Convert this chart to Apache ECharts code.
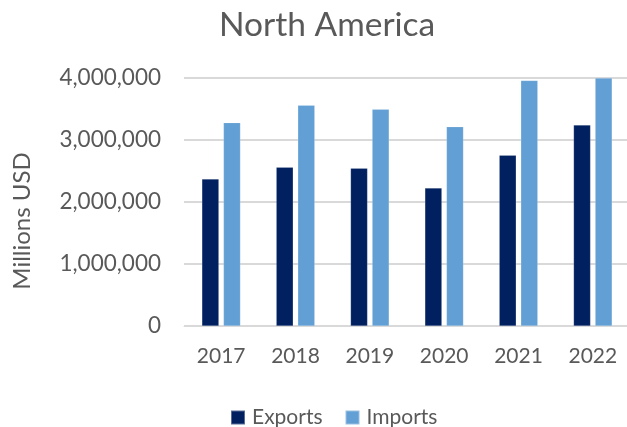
<!DOCTYPE html>
<html>
<head>
<meta charset="utf-8">
<script src="https://cdn.jsdelivr.net/npm/echarts@6/dist/echarts.min.js"></script>
<style>
  html, body { margin: 0; padding: 0; background: #fff; }
  #chart { width: 627px; height: 427px; }
</style>
</head>
<body>
<div id="chart"></div>
<script>
// North America trade, millions of US dollars
const years = ['2017', '2018', '2019', '2020', '2021', '2022'];
const exportsData = [2370000, 2560000, 2545000, 2225000, 2755000, 3240000];
const importsData = [3280000, 3560000, 3495000, 3215000, 3960000, 3998000];
const yTicks = [0, 1000000, 2000000, 3000000, 4000000];

const FONT = 'Lato, "Open Sans", sans-serif';
const TEXT = '#595959';

const chart = echarts.init(document.getElementById('chart'), null, { renderer: 'canvas' });

chart.setOption({
  animation: false,
  backgroundColor: '#ffffff',
  title: {
    text: 'North America',
    left: 214,
    top: 3,
    textStyle: { fontFamily: FONT, fontSize: 33.5, fontWeight: 'normal', color: TEXT }
  },
  legend: {
    top: 402,
    left: 225,
    itemWidth: 14,
    itemHeight: 14,
    itemGap: 22,
    icon: 'rect',
    textStyle: { fontFamily: FONT, fontSize: 21, color: TEXT, padding: [0, 0, 0, 2] },
    data: ['Exports', 'Imports']
  },
  grid: { left: 184, top: 78, width: 446, bottom: 101, outerBoundsMode: 'none', containLabel: false },
  xAxis: {
    type: 'category',
    data: years,
    axisLine: { lineStyle: { color: '#D9D9D9', width: 1 } },
    axisTick: { show: false },
    axisLabel: { fontFamily: FONT, fontSize: 21, color: TEXT, margin: 20 }
  },
  yAxis: {
    type: 'value',
    min: yTicks[0],
    max: yTicks[yTicks.length - 1],
    interval: yTicks[1] - yTicks[0],
    name: 'Millions USD',
    nameLocation: 'middle',
    nameGap: 150,
    nameRotate: 90,
    nameTextStyle: { fontFamily: FONT, fontSize: 24, color: TEXT, padding: [0, 38, 0, 0] },
    axisLine: { show: false },
    axisTick: { show: false },
    splitLine: { lineStyle: { color: '#D9D9D9', width: 2 } },
    axisLabel: {
      fontFamily: FONT, fontSize: 22.5, color: TEXT, margin: 23,
      formatter: v => v.toLocaleString('en-US')
    }
  },
  series: [
    {
      name: 'Exports',
      type: 'bar',
      data: exportsData,
      barWidth: 17,
      barGap: '27%',
      itemStyle: { color: '#002060', borderColor: 'rgba(255,255,255,0.35)', borderWidth: 0.5 }
    },
    {
      name: 'Imports',
      type: 'bar',
      data: importsData,
      barWidth: 17,
      barGap: '27%',
      itemStyle: { color: '#629FD4', borderColor: 'rgba(255,255,255,0.35)', borderWidth: 0.5 }
    }
  ]
});
</script>
</body>
</html>
